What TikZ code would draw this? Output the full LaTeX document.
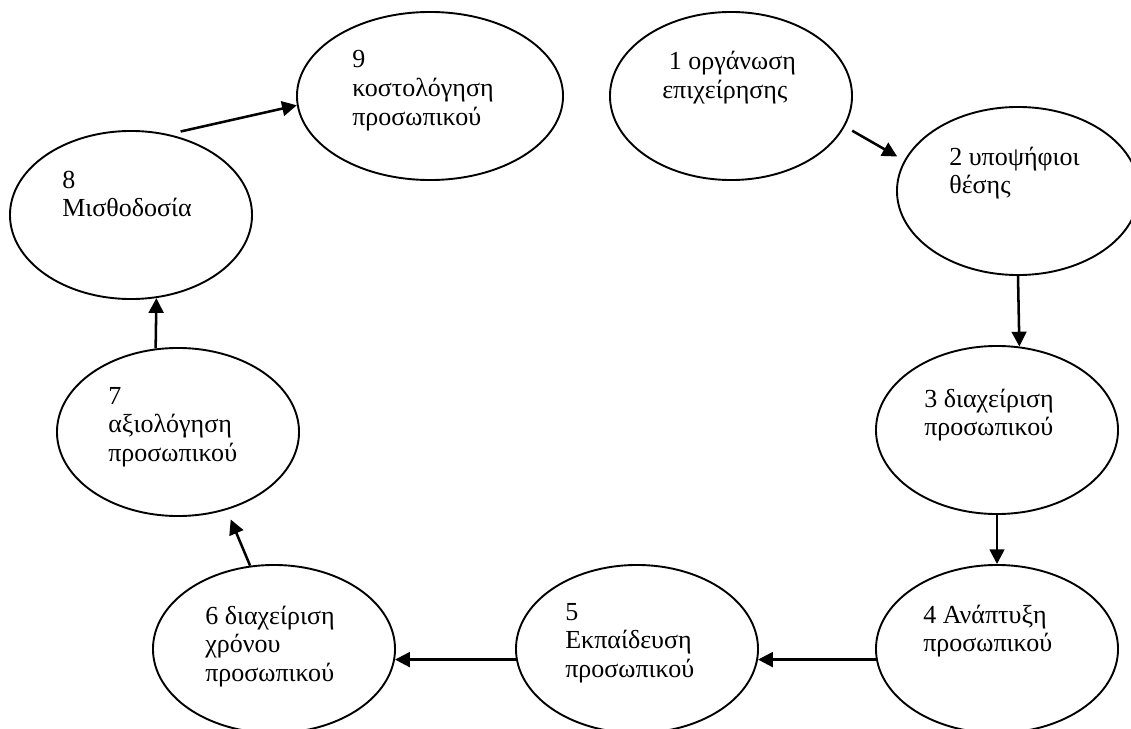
\documentclass[tikz,border=0pt]{standalone}
\usepackage{fontspec}
\setmainfont{Liberation Serif}
\usetikzlibrary{shapes.geometric,arrows.meta}
\newcommand{\stagetext}[1]{\begin{tabular}[t]{@{}l@{}}#1\end{tabular}}

\begin{document}
\begin{tikzpicture}
[x=0.025cm,y=-0.025cm,
  lineDecorate/.style={-{Triangle[length=10.5pt,width=10.5pt]},line width=1.8pt},%
  nodeDecorate/.style={shape=ellipse,draw,line width=1.35pt,minimum height=4.2cm,inner sep=0pt},%
  textDecorate/.style={anchor=base west,inner sep=0pt,font=\fontsize{18.5}{20.6}\selectfont}]
\useasboundingbox (0,0) rectangle (1131,729);
%% stages
\foreach \nodename/\x/\y/\w in {
  e1/731/96/6.05, e2/1018/191/6.05, e3/997/430/6.05, e4/997/649/6.05,
  e5/637/649/6.05, e6/274/649/6.05, e7/178/432/6.05, e8/131/215/6.05,
  e9/430/96/6.65}
{
  \node (\nodename) at (\x,\y) [nodeDecorate,minimum width=\w cm] {};
}
%% texts
\foreach \nodename/\x/\y/\txt in {
  t1/662/70/{~1 οργάνωση\\επιχείρησης},
  t2/949/165/{2 υποψήφιοι\\θέσης},
  t3/924/407/{3 διαχείριση\\προσωπικού},
  t4/923/623/{4 Ανάπτυξη\\προσωπικού},
  t5/565/620/{5\\Εκπαίδευση\\προσωπικού},
  t6/205/624/{6 διαχείριση\\χρόνου\\προσωπικού},
  t7/108/404/{7\\αξιολόγηση\\προσωπικού},
  t8/62/188/{8\\Μισθοδοσία},
  t9/352/68/{9\\κοστολόγηση\\προσωπικού}}
{
  \node (\nodename) at (\x,\y) [textDecorate] {\stagetext{\txt}};
}
%% arrows
\draw [lineDecorate,shorten <=6pt,shorten >=5.7pt] (e1.-15.4) -- (e2.165);
\draw [lineDecorate] (e2.south) -- (e3.75);
\draw [lineDecorate] (e3) -- (e4);
\draw [lineDecorate] (e4.185.7) -- (e5.-5.7);
\draw [lineDecorate] (e5.185.7) -- (e6.-5.7);
\draw [lineDecorate,shorten >=7.4pt] (e6.106.9) -- (e7.-58.8);
\draw [lineDecorate] (e7.105.6) -- (e8.-73.7);
\draw [lineDecorate,shorten <=8.7pt] (e8.65.9) -- (e9.184);
\end{tikzpicture}
\end{document}
